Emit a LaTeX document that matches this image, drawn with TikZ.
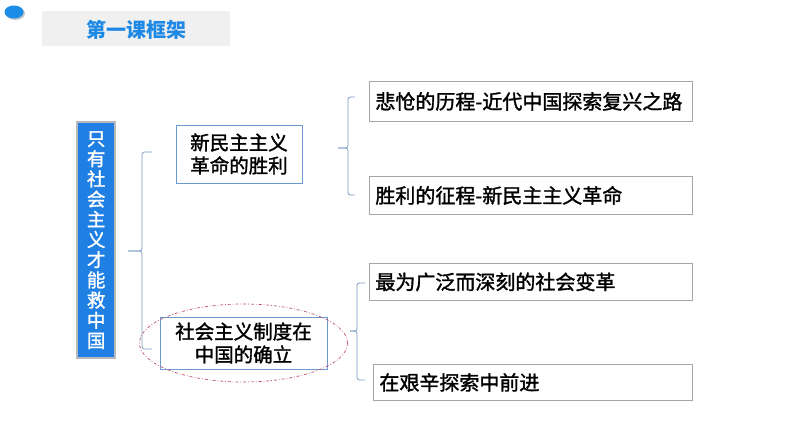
\documentclass[tikz,border=0pt]{standalone}
\usepackage{fontspec}
\setmainfont{Noto Sans CJK SC}
\newfontfamily\cjkmid{Noto Sans CJK SC}[FakeBold=1.5]
\usetikzlibrary{positioning,shadows}

\definecolor{titleblue}{HTML}{1E88E5}
\definecolor{barblue}{HTML}{1F7FE3}
\definecolor{boxblue}{HTML}{6A9AD0}
\definecolor{bracecol}{HTML}{7E9CC4}
\definecolor{itemgray}{HTML}{A6A6A6}
\definecolor{ovalred}{HTML}{C0506A}

\tikzset{
  catbox/.style={draw=boxblue,line width=0.9pt,fill=white,align=center,
    font=\cjkmid\fontsize{19.5}{23}\selectfont,inner sep=0pt},
  itembox/.style={draw=itemgray,line width=0.8pt,fill=white,anchor=north west,
    font=\cjkmid\fontsize{20}{23}\selectfont,inner sep=0pt},
  bracepath/.style={draw=bracecol,line width=0.8pt,rounded corners=2.5pt},
}

\begin{document}
\begin{tikzpicture}[x=1pt,y=-1pt]
  \useasboundingbox (0,0) rectangle (794,447);
  % header
  \fill[gray!45] (15.5,13.5) ellipse [x radius=9.5,y radius=6.5];
  \fill[barblue!90!cyan] (14,12) ellipse [x radius=9.5,y radius=6.5];
  \fill[gray!12] (42,11) rectangle (230,46);
  \node[font=\fontsize{20}{20}\selectfont\bfseries,text=titleblue] (title) at (136,30) {第一课框架};

  % main theme
  \fill[gray!55] (76,121) rectangle (116,359);
  \node[fill=barblue,minimum width=36,minimum height=234,inner sep=0pt,anchor=north west,
        text=white,align=center,font=\cjkmid\fontsize{18.5}{20.2}\selectfont] (theme) at (78,123)
        {只\\有\\社\\会\\主\\义\\才\\能\\救\\中\\国};

  % second level
  \node[catbox,minimum width=126,minimum height=58] (victory) at (239,154) {新民主主义\\革命的胜利};
  \node[catbox,minimum width=167,minimum height=52] (system) at (243.5,343) {社会主义制度在\\中国的确立};
  \draw[ovalred,line width=0.7pt,dash dot] (system.center) ellipse [x radius=104,y radius=39];

  % third level
  \node[itembox,minimum width=323,minimum height=40,text width=311,inner xsep=6pt] (road) at (369,81) {悲怆的历程-近代中国探索复兴之路};
  \node[itembox,minimum width=323,minimum height=38,text width=311,inner xsep=6pt] (march) at (369,176) {胜利的征程-新民主主义革命};
  \node[itembox,minimum width=323,minimum height=37,text width=311,inner xsep=6pt] (change) at (369,263) {最为广泛而深刻的社会变革};
  \node[itembox,minimum width=319,minimum height=36,text width=307,inner xsep=6pt] (explore) at (373,364) {在艰辛探索中前进};

  % braces
  \draw[bracepath] (152,152) -- (142,152) -- (142,251) -- (128,251);
  \draw[bracepath] (128,251) -- (142,251) -- (142,349) -- (152,349);
  \draw[bracepath] (355,97) -- (348,97) -- (348,148) -- (338,148);
  \draw[bracepath] (338,148) -- (348,148) -- (348,195) -- (355,195);
  \draw[bracepath] (365,283) -- (357,283) -- (357,331) -- (350,331);
  \draw[bracepath] (350,331) -- (357,331) -- (357,380) -- (365,380);
\end{tikzpicture}
\end{document}
